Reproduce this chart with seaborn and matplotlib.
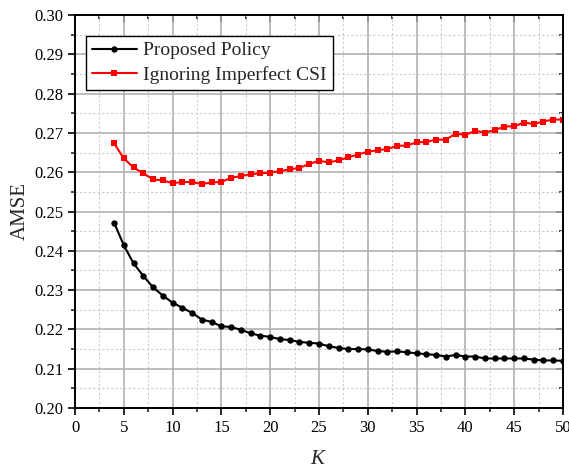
import matplotlib
matplotlib.use("Agg")
import matplotlib.pyplot as plt
import seaborn as sns
import pandas as pd
import numpy as np
from matplotlib.ticker import MultipleLocator

K = list(range(4, 51))
proposed = [0.2472, 0.2414, 0.2368, 0.2336, 0.2307, 0.2286, 0.2268, 0.2255, 0.2242, 0.2225,
            0.2219, 0.2208, 0.2206, 0.2199, 0.2190, 0.2184, 0.2181, 0.2175, 0.2173, 0.2168,
            0.2166, 0.2164, 0.2157, 0.2153, 0.2150, 0.2150, 0.2149, 0.2145, 0.2143, 0.2144,
            0.2142, 0.2139, 0.2137, 0.2135, 0.2131, 0.2135, 0.2131, 0.2131, 0.2126, 0.2126,
            0.2126, 0.2126, 0.2126, 0.2123, 0.2121, 0.2121, 0.2120]
ignoring = [0.2674, 0.2635, 0.2612, 0.2597, 0.2582, 0.2579, 0.2572, 0.2575, 0.2575, 0.2570,
            0.2574, 0.2575, 0.2586, 0.2590, 0.2595, 0.2597, 0.2599, 0.2603, 0.2607, 0.2611,
            0.2621, 0.2629, 0.2625, 0.2630, 0.2638, 0.2645, 0.2652, 0.2656, 0.2659, 0.2667,
            0.2668, 0.2676, 0.2677, 0.2683, 0.2683, 0.2698, 0.2695, 0.2705, 0.2701, 0.2707,
            0.2716, 0.2717, 0.2726, 0.2723, 0.2729, 0.2734, 0.2734]
labels = ["Proposed Policy", "Ignoring Imperfect CSI"]
xticks = list(range(0, 51, 5))
yticks = [0.20, 0.21, 0.22, 0.23, 0.24, 0.25, 0.26, 0.27, 0.28, 0.29, 0.30]

sns.set_style("white")
plt.rcParams['font.family'] = ['Liberation Serif', 'DejaVu Serif']
plt.rcParams['mathtext.fontset'] = 'custom'
plt.rcParams['mathtext.it'] = 'Liberation Serif:italic'

df = pd.DataFrame({"K": K * 2,
                   "AMSE": proposed + ignoring,
                   "series": [labels[0]] * len(K) + [labels[1]] * len(K)})

fig = plt.figure(figsize=(5.69, 4.71), dpi=100)
ax = fig.add_axes([75/569, 1 - 408/471, (563-75)/569, (408-15)/471])

ax.grid(True, which='major', color='#ababab', linestyle='-', linewidth=1.1, zorder=0)
ax.grid(True, which='minor', color='#cccccc', linestyle=(0, (2, 2)), linewidth=0.8, zorder=0)
ax.set_axisbelow(True)

sns.lineplot(data=df, x="K", y="AMSE", hue="series", style="series",
             palette={labels[0]: "black", labels[1]: "red"},
             markers={labels[0]: "o", labels[1]: "s"}, dashes=False,
             markersize=4.6, markeredgewidth=0, linewidth=1.5, ax=ax)

ax.set_xlim(0, 50)
ax.set_ylim(0.20, 0.30)
ax.set_xticks(xticks)
ax.set_yticks(yticks)
ax.set_yticklabels([f"{v:.2f}" for v in yticks])
ax.xaxis.set_minor_locator(MultipleLocator(2.5))
ax.yaxis.set_minor_locator(MultipleLocator(0.005))
ax.tick_params(axis='both', which='major', direction='out', length=5, width=1.2,
               labelsize=12, colors='black', bottom=True, left=True)
ax.tick_params(axis='both', which='minor', direction='out', length=3, width=1.2,
               bottom=True, left=True)
for s in ax.spines.values():
    s.set_color('black')
    s.set_linewidth(1.4)

sec_x = ax.secondary_xaxis('top')
sec_x.set_xticks(xticks)
sec_x.xaxis.set_minor_locator(MultipleLocator(2.5))
sec_x.tick_params(which='major', direction='in', length=5, width=1.2, labeltop=False)
sec_x.tick_params(which='minor', direction='in', length=3, width=1.2)
sec_x.spines['top'].set_linewidth(1.4)
sec_y = ax.secondary_yaxis('right')
sec_y.set_yticks(yticks)
sec_y.yaxis.set_minor_locator(MultipleLocator(0.005))
sec_y.tick_params(which='major', direction='in', length=5, width=1.2, labelright=False)
sec_y.tick_params(which='minor', direction='in', length=3, width=1.2)
sec_y.spines['right'].set_linewidth(1.4)

ax.set_xlabel(r"$K$", fontsize=15, labelpad=10)
ax.set_ylabel("AMSE", fontsize=15, labelpad=3)

leg = ax.legend(loc='upper left', bbox_to_anchor=((86-75)/488, (408-36)/393), fontsize=14,
                frameon=True, fancybox=False, framealpha=1, edgecolor='black',
                borderaxespad=0, handlelength=2.3, borderpad=0.3, labelspacing=0.35,
                handletextpad=0.35)
leg.get_frame().set_linewidth(1.0)

fig.savefig("out.png", dpi=100)
